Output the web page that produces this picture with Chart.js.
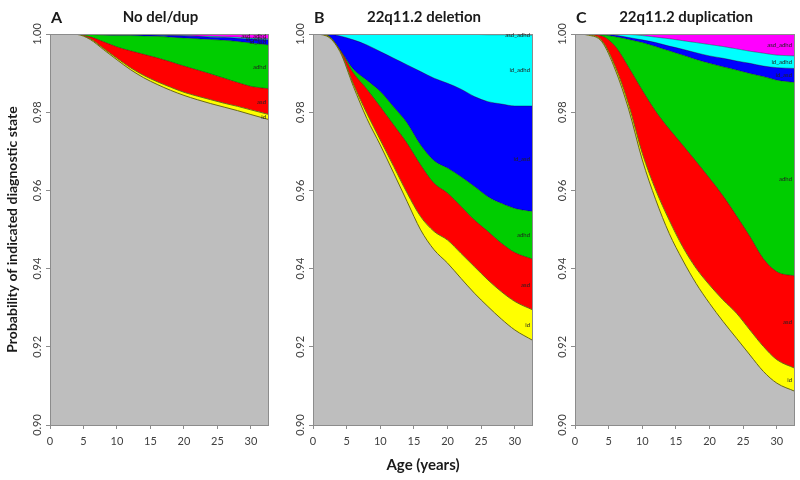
<!DOCTYPE html>
<html>
<head>
<meta charset="utf-8">
<title>Diagnostic state probability by age</title>
<script src="https://cdn.jsdelivr.net/npm/chart.js@4.4.1/dist/chart.umd.min.js"></script>
<style>
  body { margin: 0; background: #fff; }
  #wrap { position: relative; width: 800px; height: 480px; overflow: hidden; }
  canvas { position: absolute; top: 0; }
</style>
</head>
<body>
<div id="wrap">
  <canvas id="chartA" width="275" height="480" style="left:0px"></canvas>
  <canvas id="chartB" width="265" height="480" style="left:275px"></canvas>
  <canvas id="chartC" width="260" height="480" style="left:540px"></canvas>
</div>
<script>
// ages (years) where the curves were read
var ages = [0, 2, 4, 6, 8, 10, 12, 14, 16, 18, 20, 22, 24, 26, 28, 30, 32.7];
var xTicks = [0, 5, 10, 15, 20, 25, 30];
var yTicks = [0.90, 0.92, 0.94, 0.96, 0.98, 1.00];

var states = ["unaffected", "id", "asd", "adhd", "id_asd", "id_adhd", "asd_adhd"];
var stateColors = ["#bebebe", "#ffff00", "#ff0000", "#00cd00", "#0000ff", "#00ffff", "#ff00ff"];

// each array = upper edge of that band (cumulative probability)
// A: no del/dup
var noneUnaffected = [1, 1, 0.9999, 0.9986, 0.9960, 0.9934, 0.9909, 0.9888, 0.9871, 0.9856, 0.9843, 0.9832, 0.9822, 0.9813, 0.9804, 0.9794, 0.9781];
var noneId         = [1, 1, 0.9999, 0.9988, 0.9963, 0.9938, 0.9914, 0.9894, 0.9878, 0.9864, 0.9851, 0.9841, 0.9832, 0.9823, 0.9815, 0.9806, 0.9794];
var noneAsd        = [1, 1, 0.9999, 0.9993, 0.9980, 0.9967, 0.9957, 0.9948, 0.9939, 0.9929, 0.9918, 0.9908, 0.9898, 0.9887, 0.9876, 0.9866, 0.9860];
var noneAdhd       = [1, 1, 1, 0.9999, 0.9997, 0.9996, 0.9996, 0.9995, 0.9994, 0.9992, 0.9990, 0.9988, 0.9986, 0.9984, 0.9981, 0.9977, 0.9972];
var noneIdAsd      = [1, 1, 1, 1, 0.9999, 0.9999, 0.9999, 0.9998, 0.9997, 0.9996, 0.9995, 0.9994, 0.9992, 0.9991, 0.9989, 0.9987, 0.9985];
var noneIdAdhd     = [1, 1, 1, 1, 1, 0.9999, 0.9999, 0.9999, 0.9998, 0.9997, 0.9996, 0.9995, 0.9994, 0.9993, 0.9992, 0.9990, 0.9988];

// B: 22q11.2 deletion
var delUnaffected = [1, 0.9995, 0.9955, 0.9866, 0.9784, 0.9716, 0.9644, 0.9571, 0.9499, 0.9448, 0.9414, 0.9375, 0.9337, 0.9303, 0.9271, 0.9243, 0.9216];
var delId         = [1, 0.9996, 0.9957, 0.9872, 0.9797, 0.9729, 0.9661, 0.9593, 0.9533, 0.9495, 0.9473, 0.9439, 0.9405, 0.9371, 0.9341, 0.9316, 0.9294];
var delAsd        = [1, 0.9997, 0.9959, 0.9900, 0.9859, 0.9814, 0.9767, 0.9720, 0.9665, 0.9618, 0.9593, 0.9559, 0.9524, 0.9495, 0.9465, 0.9441, 0.9424];
var delAdhd       = [1, 0.9998, 0.9960, 0.9910, 0.9882, 0.9853, 0.9813, 0.9772, 0.9716, 0.9676, 0.9657, 0.9635, 0.9610, 0.9584, 0.9567, 0.9554, 0.9546];
var delIdAsd      = [1, 1, 0.9995, 0.9985, 0.9972, 0.9955, 0.9938, 0.9921, 0.9904, 0.9887, 0.9874, 0.9859, 0.9840, 0.9827, 0.9821, 0.9816, 0.9816];
var delIdAdhd     = [1, 1, 1, 1, 1, 1, 1, 1, 1, 1, 0.9999, 0.9999, 0.9999, 0.9998, 0.9998, 0.9998, 0.9997];

// C: 22q11.2 duplication
var dupUnaffected = [1, 0.9997, 0.9980, 0.9908, 0.9806, 0.9678, 0.9576, 0.9490, 0.9422, 0.9362, 0.9311, 0.9265, 0.9222, 0.9179, 0.9137, 0.9107, 0.9086];
var dupId         = [1, 0.9998, 0.9983, 0.9916, 0.9818, 0.9695, 0.9601, 0.9524, 0.9456, 0.9401, 0.9358, 0.9320, 0.9286, 0.9243, 0.9201, 0.9167, 0.9145];
var dupAsd        = [1, 0.9999, 0.9995, 0.9968, 0.9914, 0.9856, 0.9802, 0.9757, 0.9716, 0.9674, 0.9631, 0.9586, 0.9535, 0.9482, 0.9425, 0.9392, 0.9381];
var dupAdhd       = [1, 1, 0.9998, 0.9993, 0.9986, 0.9978, 0.9968, 0.9957, 0.9946, 0.9935, 0.9925, 0.9916, 0.9908, 0.9899, 0.9891, 0.9882, 0.9876];
var dupIdAsd      = [1, 1, 1, 0.9997, 0.9991, 0.9985, 0.9978, 0.9969, 0.9961, 0.9952, 0.9944, 0.9938, 0.9931, 0.9925, 0.9918, 0.9914, 0.9912];
var dupIdAdhd     = [1, 1, 1, 1, 0.9999, 0.9996, 0.9992, 0.9988, 0.9983, 0.9978, 0.9973, 0.9968, 0.9962, 0.9956, 0.9951, 0.9946, 0.9944];

var fontName = "Lato, 'Open Sans', sans-serif";

function points(arr) {
  return ages.map(function (a, i) { return { x: a, y: arr[i] }; });
}

function makeDatasets(bands) {
  var sets = [];
  for (var i = 0; i < bands.length; i++) {
    sets.push({
      label: states[i],
      data: points(bands[i]),
      backgroundColor: stateColors[i],
      borderColor: i < 2 ? "#6b6b10" : "rgba(0,0,0,0.55)",
      borderWidth: i < 2 ? 1 : 0.6,
      fill: i === 0 ? "start" : "-1",
      pointRadius: 0,
      cubicInterpolationMode: "monotone",
    });
  }
  // last state fills from the id_adhd edge up to 1.00
  sets.push({
    label: states[6],
    data: points(bands[5]),
    backgroundColor: stateColors[6],
    borderWidth: 0,
    fill: "end",
    pointRadius: 0,
    cubicInterpolationMode: "monotone",
  });
  return sets;
}

// frame, rotated y tick labels, panel titles, small band labels
var panelDecor = {
  id: "panelDecor",
  beforeDatasetsDraw: function (chart) {
    var a = chart.chartArea, ctx = chart.ctx;
    ctx.save();
    ctx.fillStyle = stateColors[0];
    ctx.fillRect(a.left, a.top, a.right - a.left, a.bottom - a.top);
    ctx.restore();
  },
  afterDraw: function (chart) {
    var a = chart.chartArea, ctx = chart.ctx;
    var o = chart.options.plugins.panelDecor;
    var ys = chart.scales.y;
    ctx.save();
    ctx.strokeStyle = "#8c8c8c";
    ctx.lineWidth = 1;
    ctx.strokeRect(a.left + 0.5, a.top + 0.5, a.right - a.left - 1, a.bottom - a.top);

    ctx.fillStyle = "#404040";
    ctx.font = "11px " + fontName;
    ctx.textAlign = "center";
    ctx.textBaseline = "middle";
    yTicks.forEach(function (v) {
      ctx.save();
      ctx.translate(a.left - 13, ys.getPixelForValue(v));
      ctx.rotate(-Math.PI / 2);
      ctx.fillText(v.toFixed(2), 0, 0);
      ctx.restore();
    });

    ctx.fillStyle = "#1a1a1a";
    ctx.font = "bold 16px " + fontName;
    ctx.textAlign = "left";
    ctx.fillText(o.letter, a.left + 1, 18);
    ctx.textAlign = "center";
    ctx.font = "bold 15px " + fontName;
    ctx.fillText(o.title, (a.left + a.right) / 2 + 1, 17);

    // tiny state names at right end of each band
    var bands = o.bands;
    var last = ages.length - 1;
    ctx.font = "6px " + fontName;
    ctx.textAlign = "right";
    ctx.fillStyle = "#222";
    for (var i = 1; i <= bands.length; i++) {
      var lo = bands[i - 1][last];
      var hi = i < bands.length ? bands[i][last] : 1;
      var y = (ys.getPixelForValue(lo) + ys.getPixelForValue(hi)) / 2;
      ctx.fillText(states[i], a.right - 3, y);
    }
    ctx.restore();
  },
};

function makeChart(id, bands, letter, title, yAxisWidth, padRight, yTitle, xTitle) {
  return new Chart(document.getElementById(id), {
    type: "line",
    data: { datasets: makeDatasets(bands) },
    options: {
      responsive: false,
      animation: false,
      events: [],
      layout: { padding: { top: 34, right: padRight, bottom: 0, left: 0 } },
      plugins: {
        legend: { display: false },
        tooltip: { enabled: false },
        panelDecor: { letter: letter, title: title, bands: bands },
      },
      scales: {
        x: {
          type: "linear",
          min: 0,
          max: 32.7,
          afterBuildTicks: function (s) { s.ticks = xTicks.map(function (v) { return { value: v }; }); },
          afterFit: function (s) { s.height = 55; },
          grid: { drawOnChartArea: false, tickLength: 4, color: "#8c8c8c" },
          border: { display: false },
          ticks: { color: "#404040", font: { size: 11, family: fontName }, padding: 6, maxRotation: 0 },
          title: {
            display: !!xTitle,
            text: xTitle || "",
            color: "#1a1a1a",
            font: { size: 15, weight: "bold", family: fontName },
            padding: { top: 0, bottom: 6 },
          },
        },
        y: {
          min: 0.9,
          max: 1.0,
          afterBuildTicks: function (s) { s.ticks = yTicks.map(function (v) { return { value: v }; }); },
          afterFit: function (s) { s.width = yAxisWidth; },
          grid: { drawOnChartArea: false, tickLength: 4, color: "#8c8c8c" },
          border: { display: false },
          ticks: { display: false },
          title: {
            display: !!yTitle,
            text: yTitle || "",
            color: "#1a1a1a",
            font: { size: 14, weight: "bold", family: fontName },
            padding: { top: 4, bottom: 0 },
          },
        },
      },
    },
    plugins: [panelDecor],
  });
}

makeChart("chartA", [noneUnaffected, noneId, noneAsd, noneAdhd, noneIdAsd, noneIdAdhd],
  "A", "No del/dup", 50, 6, "Probability of indicated diagnostic state", null);
makeChart("chartB", [delUnaffected, delId, delAsd, delAdhd, delIdAsd, delIdAdhd],
  "B", "22q11.2 deletion", 38, 7, null, "Age (years)");
makeChart("chartC", [dupUnaffected, dupId, dupAsd, dupAdhd, dupIdAsd, dupIdAdhd],
  "C", "22q11.2 duplication", 35, 5, null, null);
</script>
</body>
</html>
